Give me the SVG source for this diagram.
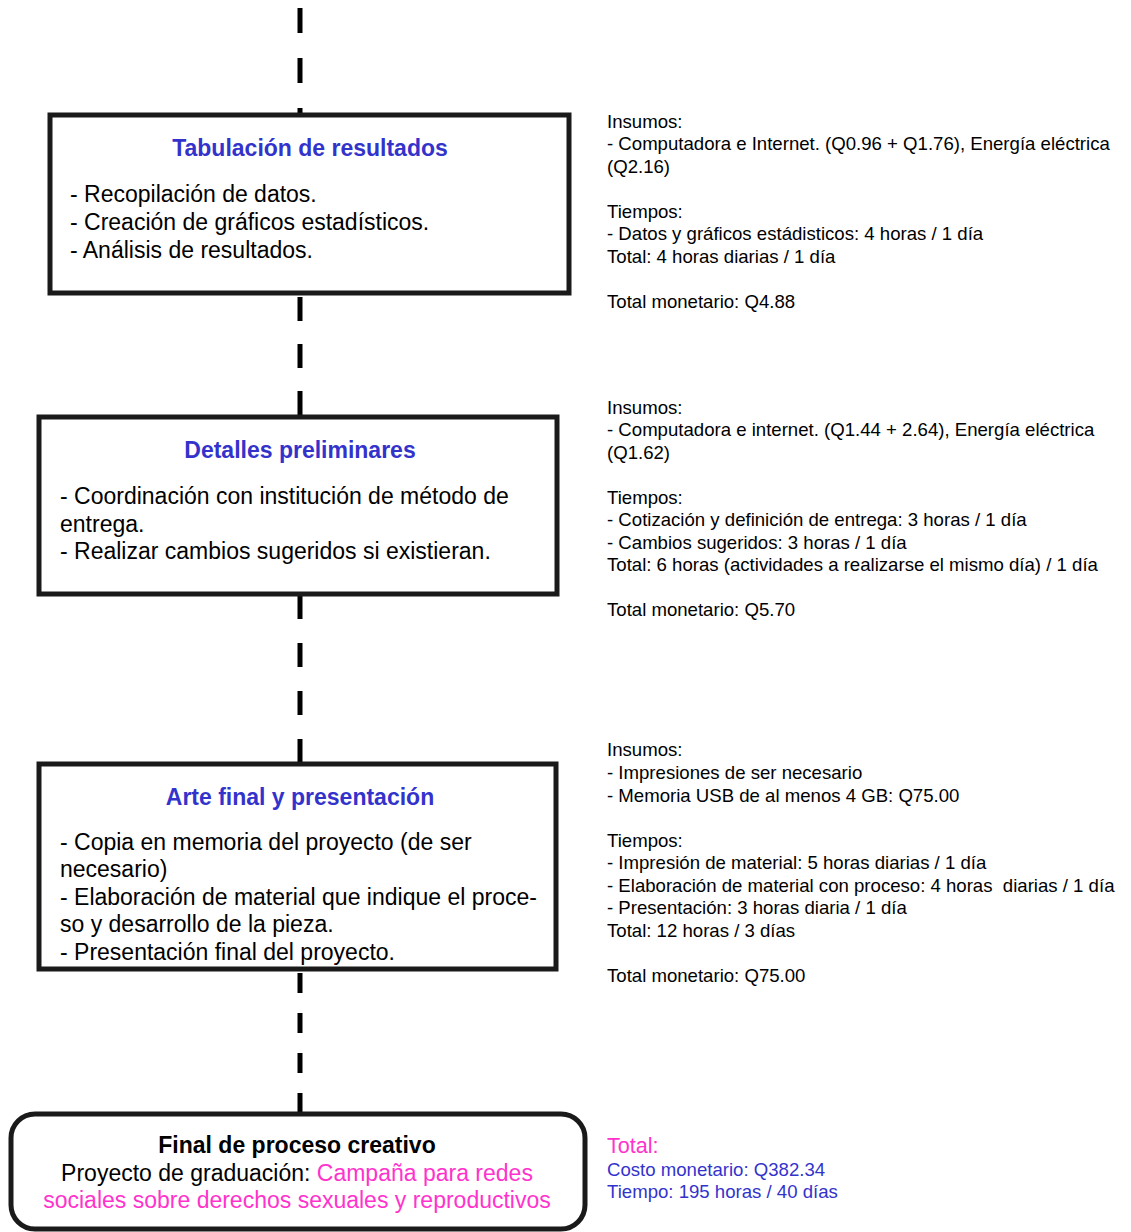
<svg xmlns="http://www.w3.org/2000/svg" width="1131" height="1232" viewBox="0 0 1131 1232">
<style>
.box{fill:#fff;stroke:#1a1a1a;stroke-width:5}
.conn{stroke:#000;stroke-width:5;fill:none}
.title{font-family:"Liberation Sans",Arial,sans-serif;font-weight:bold;font-size:23px;fill:#3333cc;text-anchor:middle}
.body{font-family:"Liberation Sans",Arial,sans-serif;font-size:23px;fill:#000}
.note{font-family:"Liberation Sans",Arial,sans-serif;font-size:18.6px;fill:#000}
.pink{fill:#ff33cc}
.blue{fill:#3333cc}
.big{font-size:21.6px}
</style>
<rect width="1131" height="1232" fill="#fff"/>
<g id="connectors">
<line class="conn" x1="300" y1="8" x2="300" y2="115" stroke-dasharray="25 25"/>
<line class="conn" x1="300" y1="297" x2="300" y2="415" stroke-dasharray="24 23"/>
<line class="conn" x1="300" y1="595" x2="300" y2="762" stroke-dasharray="24 24"/>
<line class="conn" x1="300" y1="973" x2="300" y2="1113" stroke-dasharray="20 20"/>
</g>
<g id="node-tabulacion">
<rect class="box" x="50" y="115" width="519" height="178"/>
<text class="title" x="310" y="156">Tabulación de resultados</text>
<text class="body" x="70" y="202">- Recopilación de datos.</text>
<text class="body" x="70" y="230">- Creación de gráficos estadísticos.</text>
<text class="body" x="70" y="258">- Análisis de resultados.</text>
</g>
<g id="node-detalles">
<rect class="box" x="39" y="417" width="518" height="177"/>
<text class="title" x="300" y="458">Detalles preliminares</text>
<text class="body" x="60" y="504">- Coordinación con institución de método de</text>
<text class="body" x="60" y="532">entrega.</text>
<text class="body" x="60" y="559">- Realizar cambios sugeridos si existieran.</text>
</g>
<g id="node-arte">
<rect class="box" x="39" y="764" width="517" height="205"/>
<text class="title" x="300" y="805">Arte final y presentación</text>
<text class="body" x="60" y="850">- Copia en memoria del proyecto (de ser</text>
<text class="body" x="60" y="877">necesario)</text>
<text class="body" x="60" y="905">- Elaboración de material que indique el proce-</text>
<text class="body" x="60" y="932">so y desarrollo de la pieza.</text>
<text class="body" x="60" y="960">- Presentación final del proyecto.</text>
</g>
<g id="node-final">
<rect class="box" x="11" y="1114" width="574" height="115" rx="24" ry="24"/>
<text class="body" x="297" y="1153" text-anchor="middle" font-weight="bold">Final de proceso creativo</text>
<text class="body" x="297" y="1181" text-anchor="middle">Proyecto de graduación: <tspan class="pink">Campaña para redes</tspan></text>
<text class="body pink" x="297" y="1208" text-anchor="middle">sociales sobre derechos sexuales y reproductivos</text>
</g>
<g id="note-1">
<text class="note" x="607" y="128">Insumos:</text>
<text class="note" x="607" y="150">- Computadora e Internet. (Q0.96 + Q1.76), Energía eléctrica</text>
<text class="note" x="607" y="173">(Q2.16)</text>
<text class="note" x="607" y="218">Tiempos:</text>
<text class="note" x="607" y="240">- Datos y gráficos estádisticos: 4 horas / 1 día</text>
<text class="note" x="607" y="263">Total: 4 horas diarias / 1 día</text>
<text class="note" x="607" y="308">Total monetario: Q4.88</text>
</g>
<g id="note-2">
<text class="note" x="607" y="414">Insumos:</text>
<text class="note" x="607" y="436">- Computadora e internet. (Q1.44 + 2.64), Energía eléctrica</text>
<text class="note" x="607" y="459">(Q1.62)</text>
<text class="note" x="607" y="504">Tiempos:</text>
<text class="note" x="607" y="526">- Cotización y definición de entrega: 3 horas / 1 día</text>
<text class="note" x="607" y="549">- Cambios sugeridos: 3 horas / 1 día</text>
<text class="note" x="607" y="571">Total: 6 horas (actividades a realizarse el mismo día) / 1 día</text>
<text class="note" x="607" y="616">Total monetario: Q5.70</text>
</g>
<g id="note-3">
<text class="note" x="607" y="756">Insumos:</text>
<text class="note" x="607" y="779">- Impresiones de ser necesario</text>
<text class="note" x="607" y="802">- Memoria USB de al menos 4 GB: Q75.00</text>
<text class="note" x="607" y="847">Tiempos:</text>
<text class="note" x="607" y="869">- Impresión de material: 5 horas diarias / 1 día</text>
<text class="note" x="607" y="892">- Elaboración de material con proceso: 4 horas&#160; diarias / 1 día</text>
<text class="note" x="607" y="914">- Presentación: 3 horas diaria / 1 día</text>
<text class="note" x="607" y="937">Total: 12 horas / 3 días</text>
<text class="note" x="607" y="982">Total monetario: Q75.00</text>
</g>
<g id="note-total">
<text class="note pink big" x="607" y="1153">Total:</text>
<text class="note blue" x="607" y="1176">Costo monetario: Q382.34</text>
<text class="note blue" x="607" y="1198">Tiempo: 195 horas / 40 días</text>
</g>
</svg>
